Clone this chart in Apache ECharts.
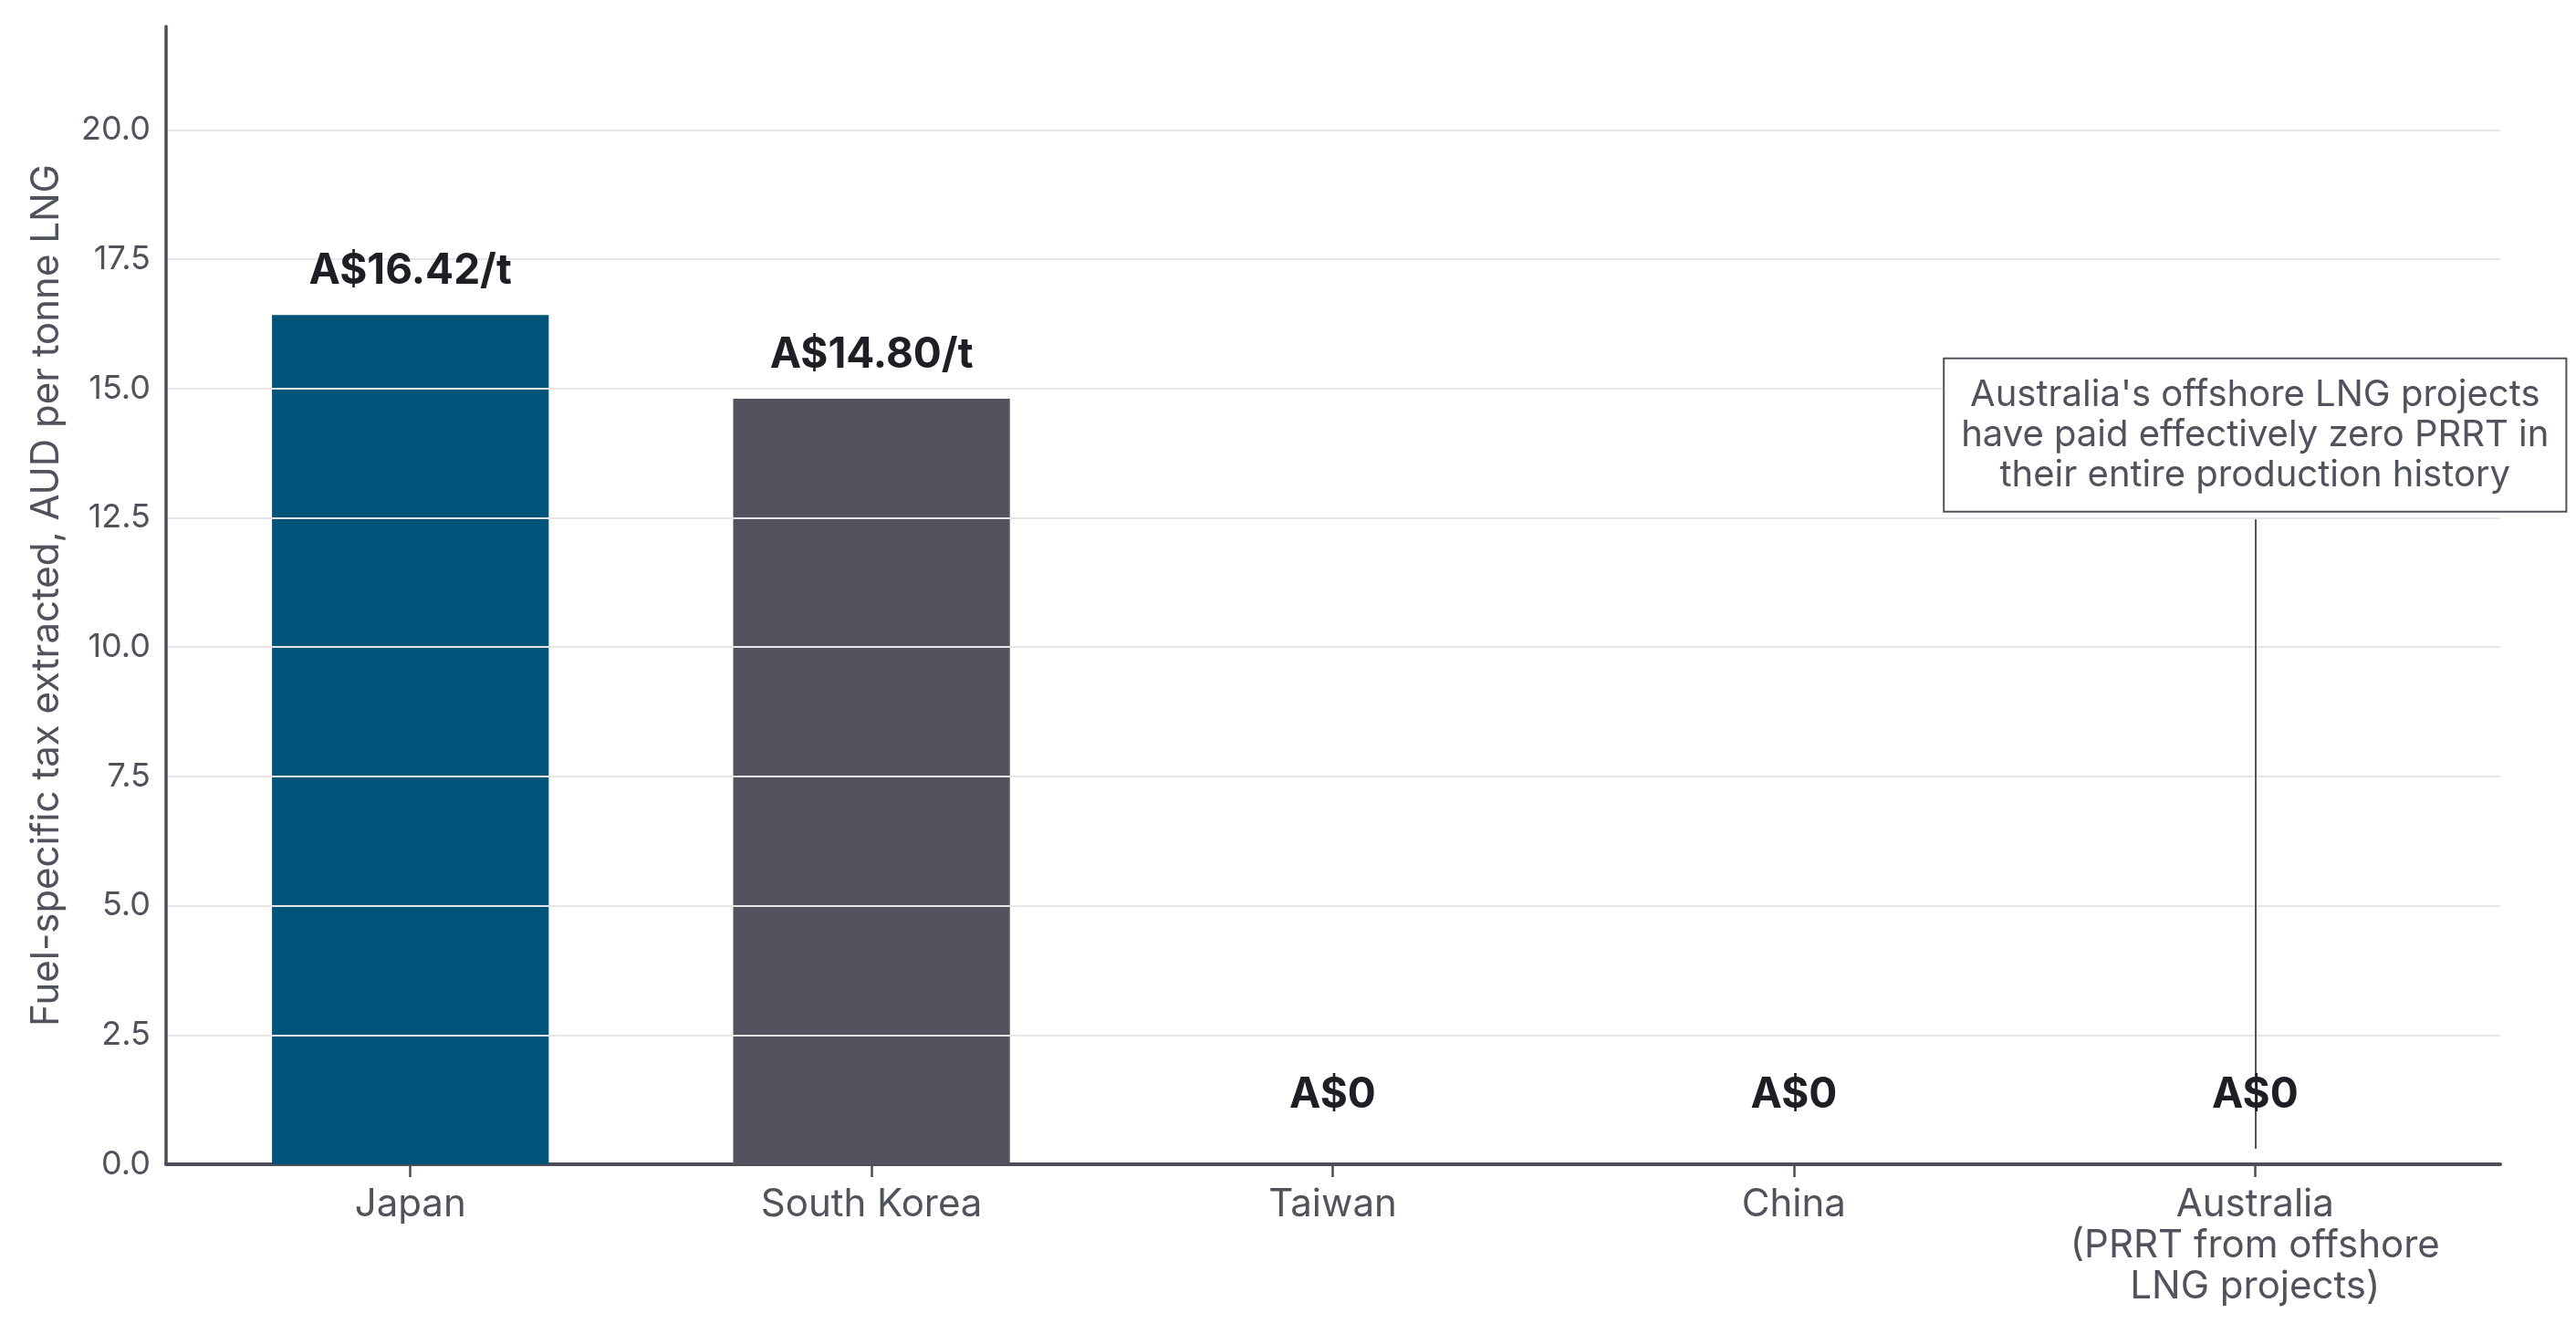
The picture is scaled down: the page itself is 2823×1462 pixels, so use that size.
<!DOCTYPE html>
<html>
<head>
<meta charset="utf-8">
<script src="https://cdn.jsdelivr.net/npm/echarts@6/dist/echarts.min.js"></script>
<style>
html,body{margin:0;padding:0;background:#fff;}
#chart{width:2823px;height:1462px;}
</style>
</head>
<body>
<div id="chart"></div>
<script>
// ---- data ----
const categories = ['Japan', 'South Korea', 'Taiwan', 'China', 'Australia\n(PRRT from offshore\nLNG projects)'];
const values = [16.42, 14.80, 0, 0, 0];
const barLabels = ['A$16.42/t', 'A$14.80/t', 'A$0', 'A$0', 'A$0'];
const yTicks = { min: 0, max: 22, interval: 2.5 };
const annotationText = "Australia's offshore LNG projects\nhave paid effectively zero PRRT in\ntheir entire production history";
const annotationAt = 14.1;       // y value of the note box centre
const leaderLine = [0.3, 12.47]; // y range of the leader line

// ---- style ----
const barColors = ['#00547a', '#52535e', '#52535e', '#52535e', '#52535e'];
const axisColor = '#4b4d57';
const textGray = '#50525c';
const FONT = 'Inter';

const barData = values.map((v, i) => ({ value: v, itemStyle: { color: barColors[i] } }));
const labelData = values.map(v => ({ value: v, label: { distance: v === 0 ? 53 : 25 } }));

const chart = echarts.init(document.getElementById('chart'), null, { renderer: 'canvas' });
chart.setOption({
  backgroundColor: '#ffffff',
  animation: false,
  grid: [
    { left: 182, right: 83, top: 29, bottom: 186 },
    { left: 197, right: 99, top: 29, bottom: 186 }
  ],
  xAxis: [
    {
      gridIndex: 0, type: 'value', min: 0, max: 1,
      axisLine: { show: true, onZero: false, lineStyle: { color: axisColor, width: 4 } },
      axisTick: { show: false }, axisLabel: { show: false }, splitLine: { show: false }
    },
    {
      gridIndex: 1, type: 'category', data: categories,
      axisLine: { show: false },
      axisTick: { show: true, alignWithLabel: true, length: 14, lineStyle: { color: axisColor, width: 2.5 } },
      axisLabel: {
        margin: 22, fontFamily: FONT, fontSize: 42, lineHeight: 45, color: textGray,
        interval: 0, align: 'center'
      }
    }
  ],
  yAxis: [
    {
      gridIndex: 0, type: 'value', min: yTicks.min, max: yTicks.max, interval: yTicks.interval,
      z: 5,
      name: 'Fuel-specific tax extracted, AUD per tonne LNG',
      nameLocation: 'middle', nameGap: 110,
      nameTextStyle: { fontFamily: FONT, fontSize: 42, color: textGray },
      axisLine: { show: true, lineStyle: { color: axisColor, width: 3.5 } },
      axisTick: { show: false },
      axisLabel: {
        margin: 17, fontFamily: FONT, fontSize: 36, color: textGray, showMaxLabel: false,
        formatter: v => (v > 20 ? '' : v.toFixed(1))
      },
      splitLine: { show: true, showMinLine: false, showMaxLine: false, lineStyle: { color: '#e6e6e6', width: 2 } }
    },
    {
      gridIndex: 1, type: 'value', min: yTicks.min, max: yTicks.max, interval: yTicks.interval,
      show: false
    }
  ],
  series: [
    {
      type: 'bar',
      xAxisIndex: 1, yAxisIndex: 1,
      barWidth: '60%',
      data: barData,
      z: 2
    },
    {
      type: 'bar',
      xAxisIndex: 1, yAxisIndex: 1,
      barWidth: '60%',
      barGap: '-100%',
      data: labelData,
      z: 10,
      itemStyle: { color: 'rgba(0,0,0,0)' },
      label: {
        show: true, position: 'top',
        fontFamily: FONT, fontSize: 46, fontWeight: 'bold', color: '#1e1f24',
        formatter: p => barLabels[p.dataIndex]
      },
      markLine: {
        silent: true, symbol: ['none', 'none'],
        label: { show: false },
        lineStyle: { color: textGray, width: 2, type: 'solid' },
        data: [[
          { coord: [categories[4], leaderLine[0]] },
          { coord: [categories[4], leaderLine[1]] }
        ]]
      },
      markPoint: {
        silent: true,
        symbol: 'rect', symbolSize: 1,
        itemStyle: { color: 'rgba(0,0,0,0)' },
        label: {
          show: true, position: 'inside',
          formatter: () => annotationText,
          fontFamily: FONT, fontSize: 40, lineHeight: 44, color: textGray,
          align: 'center', verticalAlign: 'middle',
          backgroundColor: '#ffffff',
          borderColor: textGray, borderWidth: 2,
          padding: [17, 18]
        },
        data: [{ coord: [categories[4], annotationAt] }]
      }
    }
  ]
});
</script>
</body>
</html>
